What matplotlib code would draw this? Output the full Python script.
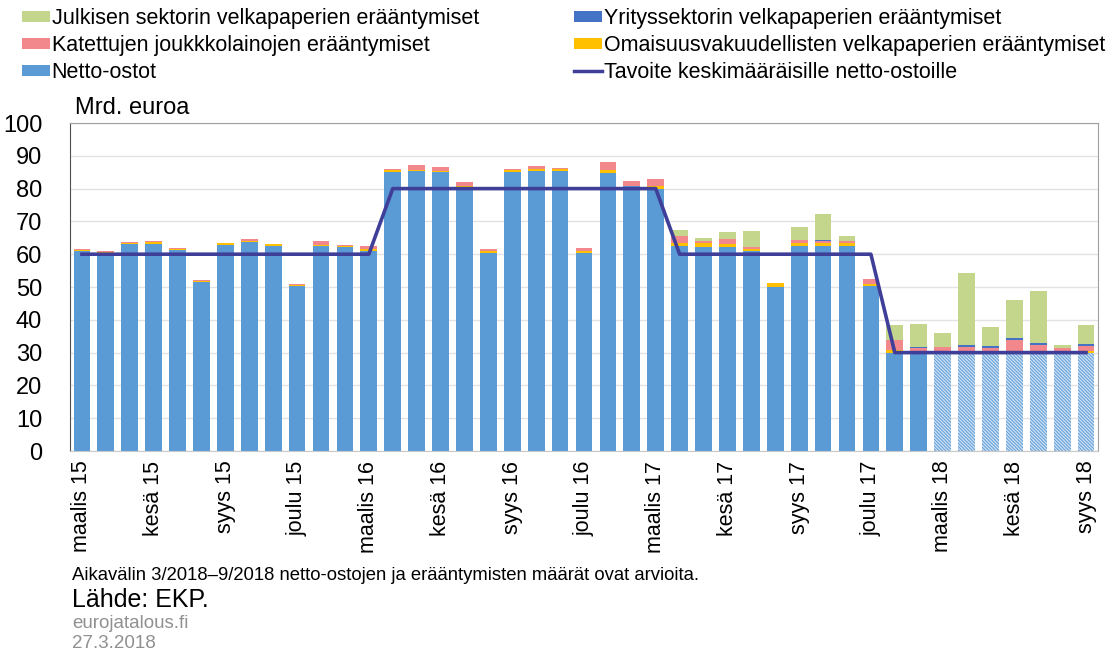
import numpy as np
import matplotlib
matplotlib.use("Agg")
import matplotlib.pyplot as plt
from matplotlib.patches import Patch
from matplotlib.lines import Line2D

# ── DATA ───────────────────────────────────────────────────
kuukaudet = [
    "maalis 15", "huhti 15", "touko 15", "kesä 15", "heinä 15", "elo 15",
    "syys 15", "loka 15", "marras 15", "joulu 15", "tammi 16", "helmi 16",
    "maalis 16", "huhti 16", "touko 16", "kesä 16", "heinä 16", "elo 16",
    "syys 16", "loka 16", "marras 16", "joulu 16", "tammi 17", "helmi 17",
    "maalis 17", "huhti 17", "touko 17", "kesä 17", "heinä 17", "elo 17",
    "syys 17", "loka 17", "marras 17", "joulu 17", "tammi 18", "helmi 18",
    "maalis 18", "huhti 18", "touko 18", "kesä 18", "heinä 18", "elo 18",
    "syys 18",
]

netto_ostot = [
    61.0, 60.5, 63.2, 63.2, 61.2, 51.5, 62.9, 63.6, 62.5, 50.3, 62.5, 62.3,
    61.0, 85.1, 85.4, 85.1, 80.6, 60.4, 85.1, 85.4, 85.4, 60.4, 84.8, 80.7,
    79.9, 62.5, 62.3, 62.3, 61.0, 50.1, 62.5, 62.5, 62.5, 50.3, 29.9, 29.9,
    30.0, 30.0, 30.0, 30.0, 30.0, 30.0, 30.0,
]
omaisuusvakuudelliset = [
    0.3, 0.2, 0.3, 0.4, 0.4, 0.4, 0.4, 0.4, 0.5, 0.4, 0.4, 0.3,
    0.7, 0.5, 0.4, 0.4, 0.3, 0.6, 0.5, 0.6, 0.6, 0.6, 0.8, 0.2,
    0.8, 0.8, 1.0, 0.9, 0.6, 1.1, 0.8, 0.8, 0.8, 0.5, 1.0, 0.4,
    0.3, 0.3, 0.3, 0.3, 0.5, 0.3, 0.5,
]
katetut = [
    0.2, 0.3, 0.1, 0.3, 0.2, 0.1, 0.2, 0.5, 0.1, 0.2, 1.0, 0.2,
    0.7, 0.4, 1.4, 1.2, 1.1, 0.5, 0.5, 0.8, 0.3, 1.0, 2.6, 1.3,
    2.3, 2.2, 0.7, 1.5, 0.6, 0.1, 1.1, 0.6, 0.6, 1.7, 3.0, 1.0,
    1.3, 1.4, 1.2, 3.6, 1.7, 1.1, 1.6,
]
yrityssektori = [
    0.0, 0.0, 0.0, 0.0, 0.0, 0.0, 0.0, 0.0, 0.0, 0.0, 0.0, 0.0,
    0.0, 0.0, 0.0, 0.0, 0.0, 0.0, 0.0, 0.0, 0.0, 0.0, 0.0, 0.0,
    0.0, 0.0, 0.0, 0.0, 0.0, 0.0, 0.0, 0.3, 0.0, 0.0, 0.0, 0.4,
    0.0, 0.5, 0.6, 0.5, 0.6, 0.0, 0.6,
]
julkinen = [
    0.0, 0.0, 0.0, 0.0, 0.0, 0.0, 0.0, 0.0, 0.0, 0.0, 0.0, 0.0,
    0.0, 0.0, 0.0, 0.0, 0.0, 0.0, 0.0, 0.0, 0.0, 0.0, 0.0, 0.0,
    0.0, 1.8, 0.9, 2.0, 5.0, 0.0, 3.9, 8.0, 1.8, 0.0, 4.5, 7.0,
    4.5, 22.0, 5.8, 11.6, 16.0, 0.9, 5.8,
]
tavoite = [
    60, 60, 60, 60, 60, 60, 60, 60, 60, 60, 60, 60,
    60, 80, 80, 80, 80, 80, 80, 80, 80, 80, 80, 80,
    80, 60, 60, 60, 60, 60, 60, 60, 60, 60, 30, 30,
    30, 30, 30, 30, 30, 30, 30,
]
arvio_alkaa = "maalis 18"   # from this month on the values are estimates

# ── PALETTE ────────────────────────────────────────────────
BLUE   = "#5B9BD5"
GREEN  = "#C3D68C"
PINK   = "#F2888B"
YELLOW = "#FFC000"
DBLUE  = "#4472C4"
LINE   = "#3F3F9A"

plt.rcParams["font.family"] = ["Liberation Sans", "DejaVu Sans"]
plt.rcParams["hatch.linewidth"] = 0.7

fig = plt.figure(figsize=(11.15, 6.55), dpi=100)
ax = fig.add_axes([70 / 1115, 1 - 451 / 655, 1028 / 1115, 328 / 655])

x = np.arange(len(kuukaudet))
w = 0.7
n_arvio = kuukaudet.index(arvio_alkaa)

# net purchases: solid until the estimate period, hatched after
ax.bar(x[:n_arvio], netto_ostot[:n_arvio], w, color=BLUE, linewidth=0, zorder=2)
ax.bar(x[n_arvio:], netto_ostot[n_arvio:], w, facecolor="#72A8DC",
       edgecolor="#DCEAF7", hatch="\\" * 10, linewidth=0, zorder=2)

bottom = np.array(netto_ostot, dtype=float)
for vals, col in [(omaisuusvakuudelliset, YELLOW), (katetut, PINK),
                  (yrityssektori, DBLUE), (julkinen, GREEN)]:
    ax.bar(x, vals, w, bottom=bottom, color=col, linewidth=0, zorder=2)
    bottom += np.array(vals)

ax.plot(x, tavoite, color=LINE, linewidth=2.6, zorder=3)

ax.set_xlim(-0.5, len(kuukaudet) - 0.5)
ax.set_ylim(0, 100)
ax.set_yticks(np.arange(0, 101, 10))
ax.tick_params(axis="y", length=0, pad=20, labelsize=17)
ax.set_xticks(x[::3])
ax.set_xticklabels(kuukaudet[::3], rotation=90, fontsize=15.5)
ax.tick_params(axis="x", length=0, pad=7)
ax.grid(axis="y", color="#E3E3E3", linewidth=1, zorder=0)
ax.set_axisbelow(True)
for s in ["top", "right"]:
    ax.spines[s].set_color("#A0A0A0")
ax.spines["left"].set_color("#505050")
ax.spines["bottom"].set_color("#C8C8C8")

fig.text(75 / 1115, 1 - 108 / 655, "Mrd. euroa", fontsize=17, va="center")

# ── LEGEND ─────────────────────────────────────────────────
def sq(c):
    return Patch(facecolor=c, edgecolor="none")

leg_kw = dict(loc="upper left", frameon=False, fontsize=15.5, handlelength=1.3,
              handleheight=0.4, handletextpad=0.08, labelspacing=0.28,
              borderaxespad=0, borderpad=0)
leg1 = fig.legend([sq(GREEN), sq(PINK), sq(BLUE)],
                  ["Julkisen sektorin velkapaperien erääntymiset",
                   "Katettujen joukkkolainojen erääntymiset", "Netto-ostot"],
                  bbox_to_anchor=(22 / 1115, 1 - 8 / 655), **leg_kw)
leg2 = fig.legend([sq(DBLUE), sq(YELLOW), Line2D([], [], color=LINE, lw=2.5)],
                  ["Yrityssektorin velkapaperien erääntymiset",
                   "Omaisuusvakuudellisten velkapaperien erääntymiset",
                   "Tavoite keskimääräisille netto-ostoille"],
                  bbox_to_anchor=(574 / 1115, 1 - 8 / 655), **leg_kw)

# ── FOOTNOTES ──────────────────────────────────────────────
fig.text(72 / 1115, 1 - 575 / 655,
         "Aikavälin 3/2018–9/2018 netto-ostojen ja erääntymisten määrät ovat arvioita.",
         fontsize=13.3, va="center")
fig.text(72 / 1115, 1 - 600 / 655, "Lähde: EKP.", fontsize=18, va="center")
fig.text(72 / 1115, 1 - 623 / 655, "eurojatalous.fi", fontsize=13.5,
         color="#909090", va="center")
fig.text(72 / 1115, 1 - 644 / 655, "27.3.2018", fontsize=13.5,
         color="#909090", va="center")

fig.savefig("out.png", dpi=100)
